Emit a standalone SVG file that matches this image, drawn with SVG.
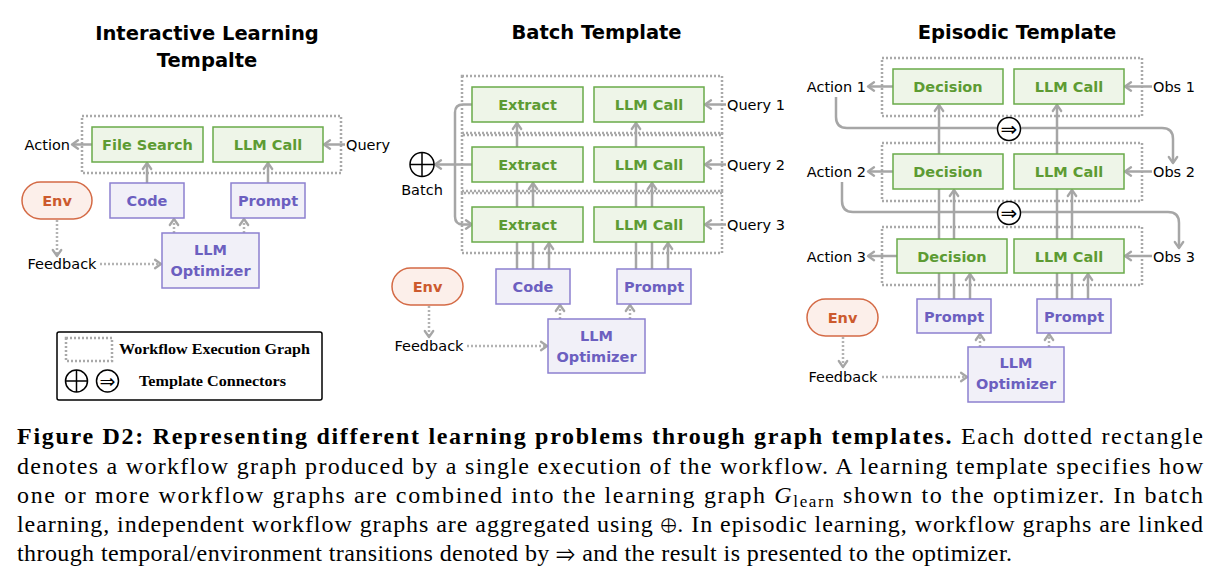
<svg xmlns="http://www.w3.org/2000/svg" width="1220" height="586" viewBox="0 0 1220 586">
<style>
.title{font-family:"DejaVu Sans",sans-serif;font-weight:bold;font-size:19.5px;fill:#000;text-anchor:middle}
.g rect{fill:#eef5e8;stroke:#6aaa4a;stroke-width:1.5}
.g text{font-family:"DejaVu Sans",sans-serif;font-weight:bold;font-size:14.5px;fill:#5d9b33;text-anchor:middle}
.p rect{fill:#f1f0f8;stroke:#8c80cf;stroke-width:1.5}
.p text{font-family:"DejaVu Sans",sans-serif;font-weight:bold;font-size:14.5px;fill:#6c5fc0;text-anchor:middle}
.e rect{fill:#fcefea;stroke:#d46a45;stroke-width:1.5}
.e text{font-family:"DejaVu Sans",sans-serif;font-weight:bold;font-size:14.5px;fill:#cc5a2e;text-anchor:middle}
.lbl{font-family:"DejaVu Sans",sans-serif;font-size:14.5px;fill:#000}
.wf{fill:none;stroke:#a9a9a9;stroke-width:2.5;stroke-dasharray:2 2}
.c{fill:none;stroke:#a6a6a6;stroke-width:2.5;marker-end:url(#ah)}
.d{fill:none;stroke:#b3b3b3;stroke-width:2.5;stroke-dasharray:2 2;marker-end:url(#ah)}
.cn{fill:#fff;stroke:#000;stroke-width:1.5}
.sym{font-family:"DejaVu Sans",sans-serif;fill:#000;text-anchor:middle}
.cap{font-family:"Liberation Serif","Tinos","Times New Roman","Nimbus Roman","FreeSerif",serif;font-size:24px;fill:#000}
.leg{font-family:"Liberation Serif","Tinos","Times New Roman","Nimbus Roman","FreeSerif",serif;font-weight:bold;font-size:15.5px;fill:#000}
</style>
<defs>
<marker id="ah" viewBox="0 0 12 12" refX="10" refY="6" markerWidth="12" markerHeight="12" markerUnits="userSpaceOnUse" orient="auto">
<path d="M4,1.8 L10,6 L4,10.2" fill="none" stroke="#a6a6a6" stroke-width="2.3" stroke-linecap="round" stroke-linejoin="round"/>
</marker>
</defs>

<!-- titles -->
<text class="title" x="207" y="40">Interactive Learning</text>
<text class="title" x="207" y="67">Tempalte</text>
<text class="title" x="596.5" y="39">Batch Template</text>
<text class="title" x="1017" y="39">Episodic Template</text>

<!-- workflow execution graphs -->
<g id="workflow-graphs">
<rect class="wf" x="82" y="116" width="259" height="57"/>
<rect class="wf" x="462" y="76" width="260" height="59"/>
<rect class="wf" x="462" y="133" width="260" height="60"/>
<rect class="wf" x="462" y="191" width="260" height="62"/>
<rect class="wf" x="882" y="58" width="260" height="58"/>
<rect class="wf" x="882" y="143" width="260" height="58"/>
<rect class="wf" x="882" y="227" width="260" height="58"/>
</g>

<g id="connectors">
<!-- panel 1 -->
<path class="c" d="M92,144.5 H72"/>
<path class="c" d="M345,144.5 H324"/>
<path class="c" d="M147,183 V163"/>
<path class="c" d="M268,183 V163"/>
<path class="d" d="M174,233 V219"/>
<path class="d" d="M244,233 V219"/>
<path class="d" d="M57,220 V256"/>
<path class="d" d="M100,264 H161"/>
<!-- panel 2 -->
<path class="c" d="M472,104.5 H463 Q455,104.5 455,112.5 V216.5 Q455,224.5 463,224.5 H472"/>
<path class="c" d="M472,164.5 H435"/>
<path class="c" d="M726,104.5 H705"/>
<path class="c" d="M726,164.5 H705"/>
<path class="c" d="M726,224.5 H705"/>
<path class="c" d="M517,269 V123"/>
<path class="c" d="M533,269 V183"/>
<path class="c" d="M549,269 V243"/>
<path class="c" d="M636,269 V123"/>
<path class="c" d="M652,269 V183"/>
<path class="c" d="M668,269 V243"/>
<path class="d" d="M560,319 V305"/>
<path class="d" d="M630,319 V305"/>
<path class="d" d="M429,306 V337"/>
<path class="d" d="M467,346 H547"/>
<!-- panel 3 -->
<path class="c" d="M893,86.5 H868"/>
<path class="c" d="M893,171.5 H868"/>
<path class="c" d="M897,256 H868"/>
<path class="c" d="M1152,86.5 H1125"/>
<path class="c" d="M1152,171.5 H1125"/>
<path class="c" d="M1152,256 H1125"/>
<path class="c" d="M836,97 V117 Q836,128 847,128 H1162 Q1173,128 1173,139 V163"/>
<path class="c" d="M842,182 V201 Q842,212 853,212 H1168 Q1179,212 1179,223 V248"/>
<path class="c" d="M939,299 V105"/>
<path class="c" d="M954,299 V190"/>
<path class="c" d="M970,299 V274"/>
<path class="c" d="M1057,299 V105"/>
<path class="c" d="M1072,299 V190"/>
<path class="c" d="M1088,299 V274"/>
<path class="d" d="M980,347 V334"/>
<path class="d" d="M1049,347 V334"/>
<path class="d" d="M843,337 V367"/>
<path class="d" d="M882,377 H967"/>
</g>

<!-- panel 1 nodes -->
<g id="p1-filesearch" class="g"><rect x="92" y="127" width="111" height="35"/><text x="147.5" y="150">File Search</text></g>
<g id="p1-llmcall" class="g"><rect x="213" y="127" width="110" height="35"/><text x="268" y="150">LLM Call</text></g>
<g id="p1-code" class="p"><rect x="110" y="183" width="74" height="35"/><text x="147" y="206">Code</text></g>
<g id="p1-prompt" class="p"><rect x="231" y="183" width="74" height="35"/><text x="268" y="206">Prompt</text></g>
<g id="p1-optimizer" class="p"><rect x="162" y="233" width="97" height="55"/><text x="210.5" y="255">LLM</text><text x="210.5" y="276">Optimizer</text></g>
<g id="p1-env" class="e"><rect x="22" y="182" width="70" height="37" rx="18.5"/><text x="57" y="206">Env</text></g>
<g id="p1-labels">
<text class="lbl" x="70" y="150" text-anchor="end">Action</text>
<text class="lbl" x="346" y="150">Query</text>
<text class="lbl" x="62" y="269" text-anchor="middle">Feedback</text>
</g>

<!-- panel 2 nodes -->
<g id="p2-extract1" class="g"><rect x="472" y="87" width="111" height="35"/><text x="527.5" y="110">Extract</text></g>
<g id="p2-llmcall1" class="g"><rect x="594" y="87" width="110" height="35"/><text x="649" y="110">LLM Call</text></g>
<g id="p2-extract2" class="g"><rect x="472" y="147" width="111" height="35"/><text x="527.5" y="170">Extract</text></g>
<g id="p2-llmcall2" class="g"><rect x="594" y="147" width="110" height="35"/><text x="649" y="170">LLM Call</text></g>
<g id="p2-extract3" class="g"><rect x="472" y="207" width="111" height="35"/><text x="527.5" y="230">Extract</text></g>
<g id="p2-llmcall3" class="g"><rect x="594" y="207" width="110" height="35"/><text x="649" y="230">LLM Call</text></g>
<g id="p2-code" class="p"><rect x="496" y="269" width="74" height="35"/><text x="533" y="292">Code</text></g>
<g id="p2-prompt" class="p"><rect x="617" y="269" width="74" height="35"/><text x="654" y="292">Prompt</text></g>
<g id="p2-optimizer" class="p"><rect x="548" y="319" width="97" height="54"/><text x="596.5" y="341">LLM</text><text x="596.5" y="362">Optimizer</text></g>
<g id="p2-env" class="e"><rect x="392" y="268" width="71" height="37" rx="18.5"/><text x="427.5" y="292">Env</text></g>
<g id="p2-batch">
<circle class="cn" cx="422" cy="164.5" r="12"/>
<path d="M410,164.5 H434 M422,152.5 V176.5" stroke="#000" stroke-width="1.5"/>
<text class="lbl" x="422" y="195" text-anchor="middle">Batch</text>
</g>
<g id="p2-labels">
<text class="lbl" x="727" y="110">Query 1</text>
<text class="lbl" x="727" y="170">Query 2</text>
<text class="lbl" x="727" y="230">Query 3</text>
<text class="lbl" x="429" y="351" text-anchor="middle">Feedback</text>
</g>

<!-- panel 3 nodes -->
<g id="p3-decision1" class="g"><rect x="893" y="69" width="110" height="35"/><text x="948" y="92">Decision</text></g>
<g id="p3-llmcall1" class="g"><rect x="1014" y="69" width="110" height="35"/><text x="1069" y="92">LLM Call</text></g>
<g id="p3-decision2" class="g"><rect x="893" y="154" width="110" height="35"/><text x="948" y="177">Decision</text></g>
<g id="p3-llmcall2" class="g"><rect x="1014" y="154" width="110" height="35"/><text x="1069" y="177">LLM Call</text></g>
<g id="p3-decision3" class="g"><rect x="897" y="239" width="110" height="34"/><text x="952" y="261.5">Decision</text></g>
<g id="p3-llmcall3" class="g"><rect x="1014" y="239" width="110" height="34"/><text x="1069" y="261.5">LLM Call</text></g>
<g id="p3-prompt1" class="p"><rect x="917" y="299" width="74" height="34"/><text x="954" y="321.5">Prompt</text></g>
<g id="p3-prompt2" class="p"><rect x="1037" y="299" width="74" height="34"/><text x="1074" y="321.5">Prompt</text></g>
<g id="p3-optimizer" class="p"><rect x="968" y="347" width="96" height="55"/><text x="1016" y="368">LLM</text><text x="1016" y="389">Optimizer</text></g>
<g id="p3-env" class="e"><rect x="807" y="299" width="71" height="37" rx="18.5"/><text x="842.5" y="323">Env</text></g>
<g id="p3-trans1"><circle class="cn" cx="1009" cy="129" r="11.5"/><text class="sym" x="1009" y="135.5" font-size="20">⇒</text></g>
<g id="p3-trans2"><circle class="cn" cx="1009" cy="213" r="11.5"/><text class="sym" x="1009" y="219.5" font-size="20">⇒</text></g>
<g id="p3-labels">
<text class="lbl" x="866" y="92" text-anchor="end">Action 1</text>
<text class="lbl" x="866" y="177" text-anchor="end">Action 2</text>
<text class="lbl" x="866" y="261.5" text-anchor="end">Action 3</text>
<text class="lbl" x="1153" y="92">Obs 1</text>
<text class="lbl" x="1153" y="177">Obs 2</text>
<text class="lbl" x="1153" y="261.5">Obs 3</text>
<text class="lbl" x="843" y="382" text-anchor="middle">Feedback</text>
</g>

<!-- legend -->
<g id="legend">
<rect x="57" y="332" width="265" height="68" rx="2" fill="#fff" stroke="#000" stroke-width="1.5"/>
<rect class="wf" x="66" y="338" width="46" height="23"/>
<text class="leg" x="119" y="354" textLength="191" lengthAdjust="spacingAndGlyphs">Workflow Execution Graph</text>
<circle class="cn" cx="76.5" cy="381" r="11"/>
<path d="M65.5,381 H87.5 M76.5,370 V392" stroke="#000" stroke-width="1.5"/>
<circle class="cn" cx="107.5" cy="381" r="11"/>
<text class="sym" x="107.5" y="387.5" font-size="19">⇒</text>
<text class="leg" x="139" y="386" textLength="147" lengthAdjust="spacingAndGlyphs">Template Connectors</text>
</g>

<!-- caption -->
<g id="caption">
<text class="cap" x="17" y="444" textLength="1186" lengthAdjust="spacing"><tspan font-weight="bold">Figure D2: Representing different learning problems through graph templates.</tspan> Each dotted rectangle</text>
<text class="cap" x="17" y="474" textLength="1186" lengthAdjust="spacing">denotes a workflow graph produced by a single execution of the workflow. A learning template specifies how</text>
<text class="cap" x="17" y="503" textLength="1186" lengthAdjust="spacing">one or more workflow graphs are combined into the learning graph <tspan font-style="italic">G</tspan><tspan font-size="17" dy="4">learn</tspan><tspan dy="-4"> shown to the optimizer. In batch</tspan></text>
<text class="cap" x="17" y="532" textLength="1186" lengthAdjust="spacing">learning, independent workflow graphs are aggregated using ⊕. In episodic learning, workflow graphs are linked</text>
<text class="cap" x="17" y="561" textLength="995" lengthAdjust="spacing">through temporal/environment transitions denoted by ⇒ and the result is presented to the optimizer.</text>
</g>
</svg>
